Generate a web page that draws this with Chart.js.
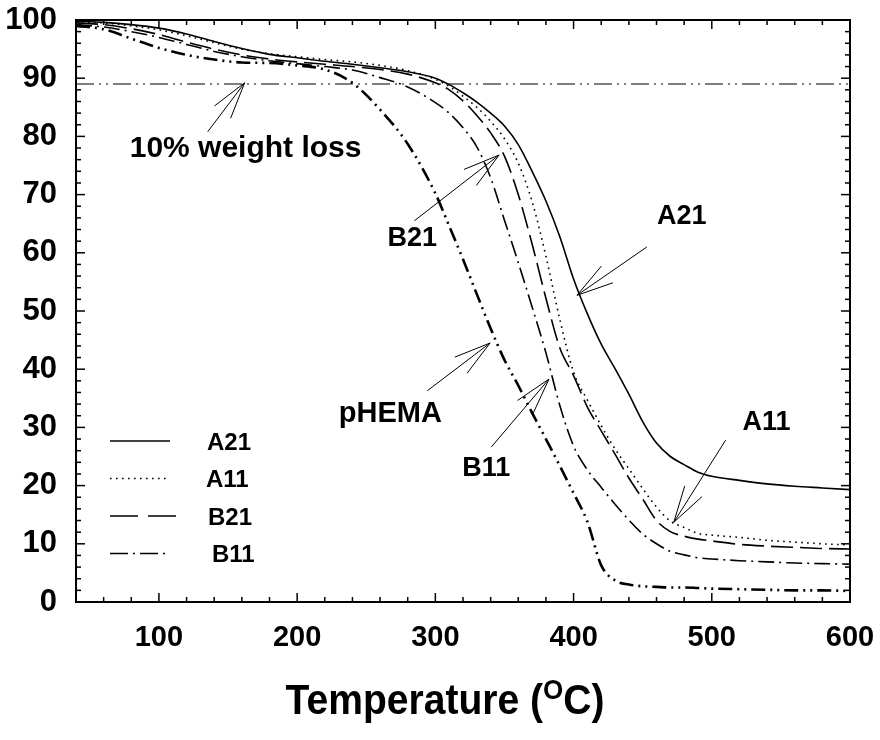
<!DOCTYPE html>
<html lang="en">
<head>
<meta charset="UTF-8">
<title>TGA curves</title>
<script src="https://cdn.jsdelivr.net/npm/chart.js@4"></script>
<style>
    html, body { margin: 0; padding: 0; background: #fff; }
    #wrap { width: 880px; height: 740px; }
</style>
</head>
<body>
<div id="wrap"><canvas id="tga" width="880" height="740"></canvas></div>
<script>
// temperature grid (oC) and weight (%)
const temps  = [40, 60, 80, 100, 120, 140, 160, 180, 200, 220, 240, 260, 280, 300,
                310, 320, 330, 340, 350, 360, 370, 380, 390, 400, 410, 420, 430, 440, 450, 460, 470, 480, 490, 500,
                520, 540, 560, 580, 600];
const wA21   = [99.8, 99.6, 99.2, 98.6, 97.6, 96.3, 95.1, 94.1, 93.5, 92.9, 92.4, 91.8, 91.1, 90.0,
                88.9, 87.5, 85.9, 84.0, 81.8, 78.6, 74.0, 68.9, 62.8, 55.5, 49.5, 44.3, 40.1, 35.7, 31.0, 27.3, 25.0, 23.6, 22.3, 21.6,
                20.9, 20.3, 19.9, 19.6, 19.3];
const wA11   = [99.7, 99.5, 99.0, 98.3, 97.3, 96.1, 95.0, 94.2, 93.7, 93.2, 92.8, 92.2, 91.3, 89.8,
                88.6, 86.9, 85.0, 82.6, 79.6, 75.4, 68.8, 59.4, 48.6, 39.5, 34.7, 30.3, 26.3, 22.9, 19.5, 16.3, 13.9, 12.8, 11.8, 11.5,
                11.1, 10.6, 10.3, 10.0, 9.8];
const wB21   = [99.5, 99.2, 98.5, 97.5, 96.2, 95.0, 94.0, 93.3, 92.8, 92.4, 92.0, 91.5, 90.7, 89.2,
                88.0, 86.1, 83.6, 80.6, 76.6, 70.0, 61.5, 52.2, 43.7, 38.9, 33.5, 29.4, 25.4, 21.3, 17.7, 14.0, 12.1, 11.3, 10.8, 10.5,
                9.9, 9.6, 9.4, 9.2, 9.1];
const wB11   = [99.2, 98.8, 98.0, 97.0, 95.8, 94.6, 93.7, 93.0, 92.5, 92.0, 91.4, 90.1, 88.5, 85.8,
                84.0, 81.5, 78.2, 72.9, 65.6, 58.3, 50.7, 42.8, 33.8, 26.8, 22.7, 19.7, 16.8, 14.1, 11.7, 10.0, 8.7, 8.1, 7.6, 7.4,
                7.1, 6.9, 6.7, 6.6, 6.5];
const wPHEMA = [99.0, 98.4, 96.8, 95.2, 94.0, 93.2, 92.7, 92.6, 92.2, 91.5, 89.2, 84.6, 78.7, 70.2,
                64.6, 58.9, 52.9, 47.0, 41.6, 37.2, 32.5, 28.0, 23.4, 18.7, 13.8, 6.3, 3.7, 3.0, 2.7, 2.6, 2.5, 2.5, 2.4, 2.3,
                2.2, 2.1, 2.0, 2.0, 1.9];

// 10% weight loss reference line
const lossLevel = 89;
const lossRange = [40, 600];

// axis ticks
const xLabels = [100, 200, 300, 400, 500, 600];
const yLabels = [0, 10, 20, 30, 40, 50, 60, 70, 80, 90, 100];
const xMinorStep = 20;
const yMinorStep = 2;

const FONT = "'Liberation Sans', Arial, Helvetica, sans-serif";

// arrows + labels (data coordinates)
const notes = [
    { text: '10% weight loss', at: [162.7, 77.8], tail: [135.3, 80.8], tip: [162.0, 89.2], size: 30 },
    { text: 'B21',   at: [283.3, 62.4], tail: [284.8, 65.5], tip: [346.1, 76.8], size: 27 },
    { text: 'A21',   at: [478.3, 66.2], tail: [453.0, 61.0], tip: [402.5, 52.7], size: 27 },
    { text: 'pHEMA', at: [267.4, 32.3], tail: [294.2, 36.3], tip: [339.6, 44.5], size: 29 },
    { text: 'B11',   at: [336.8, 23.0], tail: [340.4, 26.6], tip: [382.2, 38.3], size: 27 },
    { text: 'A11',   at: [539.6, 30.9], tail: [510.0, 27.8], tip: [472.5, 13.7], size: 27 }
];

const pts = w => temps.map((t, i) => ({ x: t, y: w[i] }));

const series = [
    { label: 'A21',   data: pts(wA21),   borderWidth: 1.6, borderDash: [],               legendDash: [],          legendLen: 60, textX: 131 },
    { label: 'A11',   data: pts(wA11),   borderWidth: 1.6, borderDash: [1.6, 4.4],       legendDash: [1.6, 4.4],  legendLen: 60, textX: 130 },
    { label: 'B21',   data: pts(wB21),   borderWidth: 1.6, borderDash: [22, 7],          legendDash: [28, 10],    legendLen: 68, textX: 132 },
    { label: 'B11',   data: pts(wB11),   borderWidth: 1.6, borderDash: [16, 5, 2, 5],    legendDash: [18, 5, 2, 5], legendLen: 58, textX: 136 },
    { label: 'pHEMA', data: pts(wPHEMA), borderWidth: 2.6, borderDash: [14, 5, 2, 5, 2, 5] }
];

const datasets = series.map(s => ({
    label: s.label,
    data: s.data,
    borderColor: '#000',
    borderWidth: s.borderWidth,
    borderDash: s.borderDash,
    pointRadius: 0,
    fill: false,
    cubicInterpolationMode: 'monotone'
}));
datasets.push({
    label: '10%',
    data: lossRange.map(t => ({ x: t, y: lossLevel })),
    borderColor: '#000',
    borderWidth: 1.2,
    borderDash: [18, 5, 2, 5, 2, 5],
    pointRadius: 0,
    fill: false
});

function line(ctx, x1, y1, x2, y2) {
    ctx.beginPath();
    ctx.moveTo(x1, y1);
    ctx.lineTo(x2, y2);
    ctx.stroke();
}

const decor = {
    id: 'decor',
    afterDraw(chart) {
        const ctx = chart.ctx, a = chart.chartArea;
        const xs = chart.scales.x, ys = chart.scales.y;
        ctx.save();
        ctx.strokeStyle = '#000';
        ctx.fillStyle = '#000';

        // frame
        ctx.lineWidth = 2;
        ctx.setLineDash([]);
        ctx.strokeRect(a.left, a.top, a.right - a.left, a.bottom - a.top);

        // inward ticks on all four sides
        ctx.lineWidth = 1.5;
        for (let v = xs.min; v <= xs.max; v += xMinorStep) {
            const px = xs.getPixelForValue(v);
            const len = v % 100 === 0 ? 9 : 5;
            line(ctx, px, a.bottom, px, a.bottom - len);
            line(ctx, px, a.top, px, a.top + len);
        }
        for (let v = ys.min; v <= ys.max; v += yMinorStep) {
            const py = ys.getPixelForValue(v);
            const len = v % 10 === 0 ? 9 : 5;
            line(ctx, a.left, py, a.left + len, py);
            line(ctx, a.right, py, a.right - len, py);
        }

        // arrows and labels
        ctx.lineWidth = 1;
        ctx.textAlign = 'center';
        ctx.textBaseline = 'middle';
        notes.forEach(n => {
            const tx = xs.getPixelForValue(n.tail[0]), ty = ys.getPixelForValue(n.tail[1]);
            const hx = xs.getPixelForValue(n.tip[0]),  hy = ys.getPixelForValue(n.tip[1]);
            line(ctx, tx, ty, hx, hy);
            const ang = Math.atan2(ty - hy, tx - hx);
            [-0.27, 0.27].forEach(d => {
                line(ctx, hx, hy, hx + 38 * Math.cos(ang + d), hy + 38 * Math.sin(ang + d));
            });
            ctx.font = `bold ${n.size}px ${FONT}`;
            ctx.fillText(n.text, xs.getPixelForValue(n.at[0]), ys.getPixelForValue(n.at[1]));
        });

        // legend in lower-left corner
        ctx.textAlign = 'left';
        ctx.font = `bold 24px ${FONT}`;
        series.slice(0, 4).forEach((s, i) => {
            const y = a.bottom - 161 + i * 37.5;
            ctx.lineWidth = s.borderWidth;
            ctx.setLineDash(s.legendDash);
            line(ctx, a.left + 34, y, a.left + 34 + s.legendLen, y);
            ctx.setLineDash([]);
            ctx.fillText(s.label, a.left + s.textX, y + 2);
        });

        // x axis title with superscript
        const cx = 445, base = 714;
        ctx.textBaseline = 'alphabetic';
        ctx.translate(cx, base);
        ctx.scale(0.93, 1);
        ctx.font = `bold 42px ${FONT}`;
        const w1 = ctx.measureText('Temperature (').width;
        const w3 = ctx.measureText('C)').width;
        ctx.font = `bold 28px ${FONT}`;
        const w2 = ctx.measureText('O').width;
        const x0 = -(w1 + w2 + w3) / 2;
        ctx.font = `bold 42px ${FONT}`;
        ctx.fillText('Temperature (', x0, 0);
        ctx.font = `bold 28px ${FONT}`;
        ctx.fillText('O', x0 + w1, -15);
        ctx.font = `bold 42px ${FONT}`;
        ctx.fillText('C)', x0 + w1 + w2, 0);
        ctx.restore();
    }
};

new Chart(document.getElementById('tga'), {
    type: 'line',
    data: { datasets: datasets },
    options: {
        responsive: false,
        animation: false,
        layout: { padding: { top: 20, right: 30, left: 0, bottom: 0 } },
        plugins: { legend: { display: false }, tooltip: { enabled: false } },
        scales: {
            x: {
                type: 'linear',
                min: 40,
                max: 600,
                afterBuildTicks: s => { s.ticks = xLabels.map(v => ({ value: v })); },
                afterFit: s => { s.height = 138; s.paddingLeft = 0; s.paddingRight = 0; },
                grid: { display: false, drawTicks: false },
                border: { display: false },
                ticks: { color: '#000', font: { family: FONT, size: 29, weight: 'bold' }, padding: 19, maxRotation: 0, autoSkip: false }
            },
            y: {
                min: 0,
                max: 100,
                afterBuildTicks: s => { s.ticks = yLabels.map(v => ({ value: v })); },
                afterFit: s => { s.width = 76; s.paddingTop = 0; s.paddingBottom = 0; },
                grid: { display: false, drawTicks: false },
                border: { display: false },
                ticks: { color: '#000', font: { family: FONT, size: 31, weight: 'bold' }, padding: 19 }
            }
        }
    },
    plugins: [decor]
});
</script>
</body>
</html>
